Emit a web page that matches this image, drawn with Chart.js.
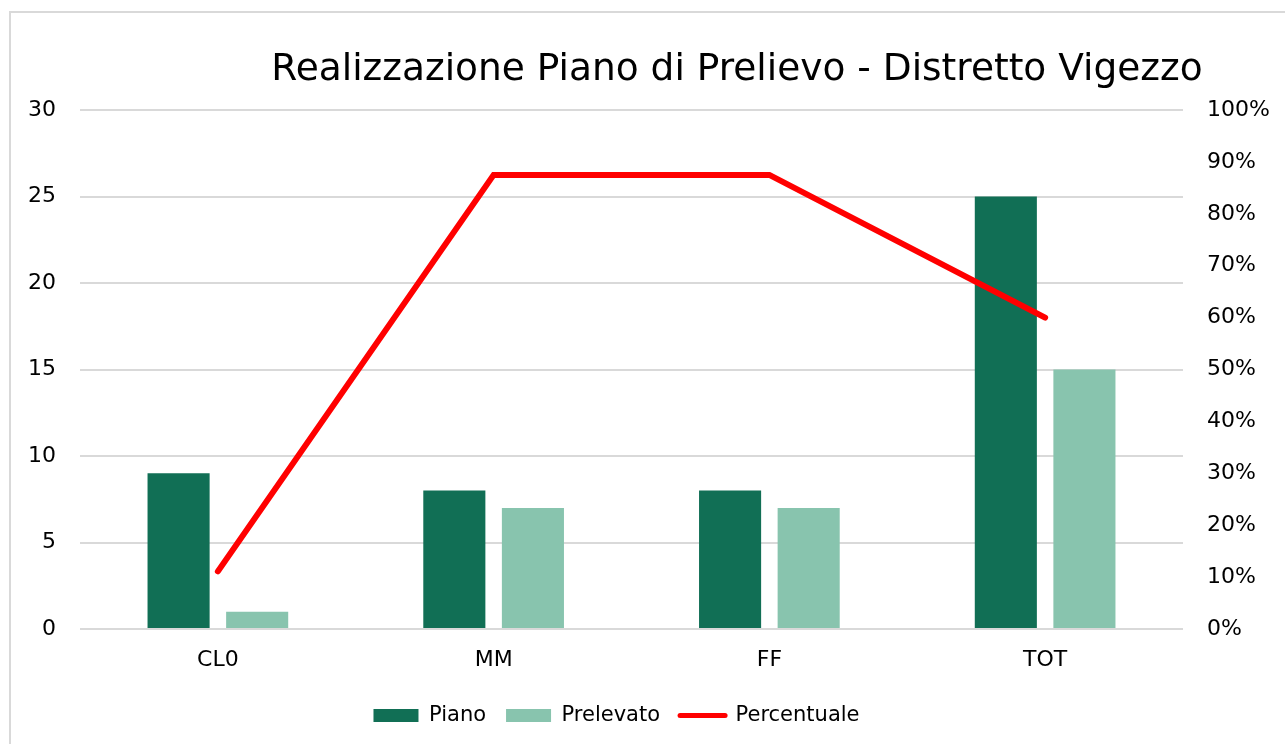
<!DOCTYPE html>
<html>
<head>
<meta charset="utf-8">
<script src="https://cdn.jsdelivr.net/npm/chart.js@4/dist/chart.umd.min.js"></script>
<style>
  html, body { margin: 0; padding: 0; background: #fff; overflow: hidden; }
  #wrap { position: relative; width: 1285px; height: 744px; }
  #frame { position: absolute; left: 9px; top: 11px; width: 2000px; height: 2000px; border: 2px solid #d9d9d9; box-sizing: border-box; pointer-events: none; }
  canvas { position: absolute; left: 0; top: 0; }
</style>
</head>
<body>
<div id="wrap">
  <canvas id="c" width="1285" height="744"></canvas>
  <div id="frame"></div>
</div>
<script>
const titleText = 'Realizzazione Piano di Prelievo - Distretto Vigezzo';
const categories = ['CL0', 'MM', 'FF', 'TOT'];
const piano = [9, 8, 8, 25];
const prelevato = [1, 7, 7, 15];
const percentuale = [0.1111, 0.875, 0.875, 0.60];
const seriesNames = ['Piano', 'Prelevato', 'Percentuale'];
const leftTicks = [0, 5, 10, 15, 20, 25, 30];
const rightTicks = [0, 0.1, 0.2, 0.3, 0.4, 0.5, 0.6, 0.7, 0.8, 0.9, 1.0];

const DARK = '#116F55';
const LIGHT = '#88C4AE';
const RED = '#FF0000';
const FONT = "'DejaVu Sans', Verdana, sans-serif";

const titlePlugin = {
  id: 'offsetTitle',
  afterUpdate(chart) {
    // shift the legend so it sits where the original one is
    if (chart.legend) { chart.legend.left -= 15; chart.legend.right -= 15; }
  },
  afterDraw(chart) {
    const ctx = chart.ctx;
    ctx.save();
    ctx.font = '37.5px ' + FONT;
    ctx.fillStyle = '#000';
    ctx.textAlign = 'center';
    ctx.textBaseline = 'alphabetic';
    ctx.fillText(titleText, 737, 80);
    ctx.restore();
  }
};

new Chart(document.getElementById('c'), {
  type: 'bar',
  data: {
    labels: categories,
    datasets: [
      { label: seriesNames[0], data: piano, backgroundColor: DARK, yAxisID: 'y', order: 2,
        categoryPercentage: 0.57, barPercentage: 0.79 },
      { label: seriesNames[1], data: prelevato, backgroundColor: LIGHT, yAxisID: 'y', order: 2,
        categoryPercentage: 0.57, barPercentage: 0.79 },
      { label: seriesNames[2], data: percentuale, type: 'line', yAxisID: 'y1', order: 1,
        borderColor: RED, backgroundColor: RED, borderWidth: 6, pointRadius: 0,
        borderCapStyle: 'round', borderJoinStyle: 'miter', tension: 0, fill: false }
    ]
  },
  options: {
    responsive: false,
    animation: false,
    layout: { padding: { top: 110, left: 28, right: 9, bottom: 8 } },
    plugins: {
      title: { display: false },
      tooltip: { enabled: false },
      legend: {
        position: 'bottom',
        fullSize: false,
        labels: {
          font: { family: FONT, size: 21 },
          color: '#000',
          usePointStyle: true,
          pointStyleWidth: 45,
          boxWidth: 45,
          boxHeight: 13,
          padding: 20,
          generateLabels(chart) {
            return chart.data.datasets.map((ds, i) => {
              const isLine = ds.type === 'line';
              return {
                text: ds.label,
                fillStyle: isLine ? RED : ds.backgroundColor,
                strokeStyle: isLine ? RED : ds.backgroundColor,
                lineWidth: isLine ? 5 : 0,
                lineCap: 'round',
                pointStyle: isLine ? 'line' : 'rect',
                fontColor: '#000',
                hidden: false,
                datasetIndex: i
              };
            });
          }
        }
      }
    },
    scales: {
      x: {
        grid: { display: false, drawTicks: false },
        border: { display: false },
        afterFit(scale) { scale.height = 56; },
        ticks: { font: { family: FONT, size: 22 }, color: '#000', padding: 18 }
      },
      y: {
        position: 'left',
        min: 0, max: 30,
        afterBuildTicks(scale) { scale.ticks = leftTicks.map(v => ({ value: v })); },
        afterFit(scale) { scale.width = 52; },
        grid: { color: '#d9d9d9', lineWidth: 2, drawTicks: false },
        border: { display: false },
        ticks: { font: { family: FONT, size: 22 }, color: '#000', padding: 24 }
      },
      y1: {
        position: 'right',
        min: 0, max: 1,
        afterBuildTicks(scale) { scale.ticks = rightTicks.map(v => ({ value: v })); },
        afterFit(scale) { scale.width = 93; },
        grid: { drawOnChartArea: false, drawTicks: false },
        border: { display: false },
        ticks: {
          font: { family: FONT, size: 22 }, color: '#000', padding: 24,
          callback: v => Math.round(v * 100) + '%'
        }
      }
    }
  },
  plugins: [titlePlugin]
});
</script>
</body>
</html>
